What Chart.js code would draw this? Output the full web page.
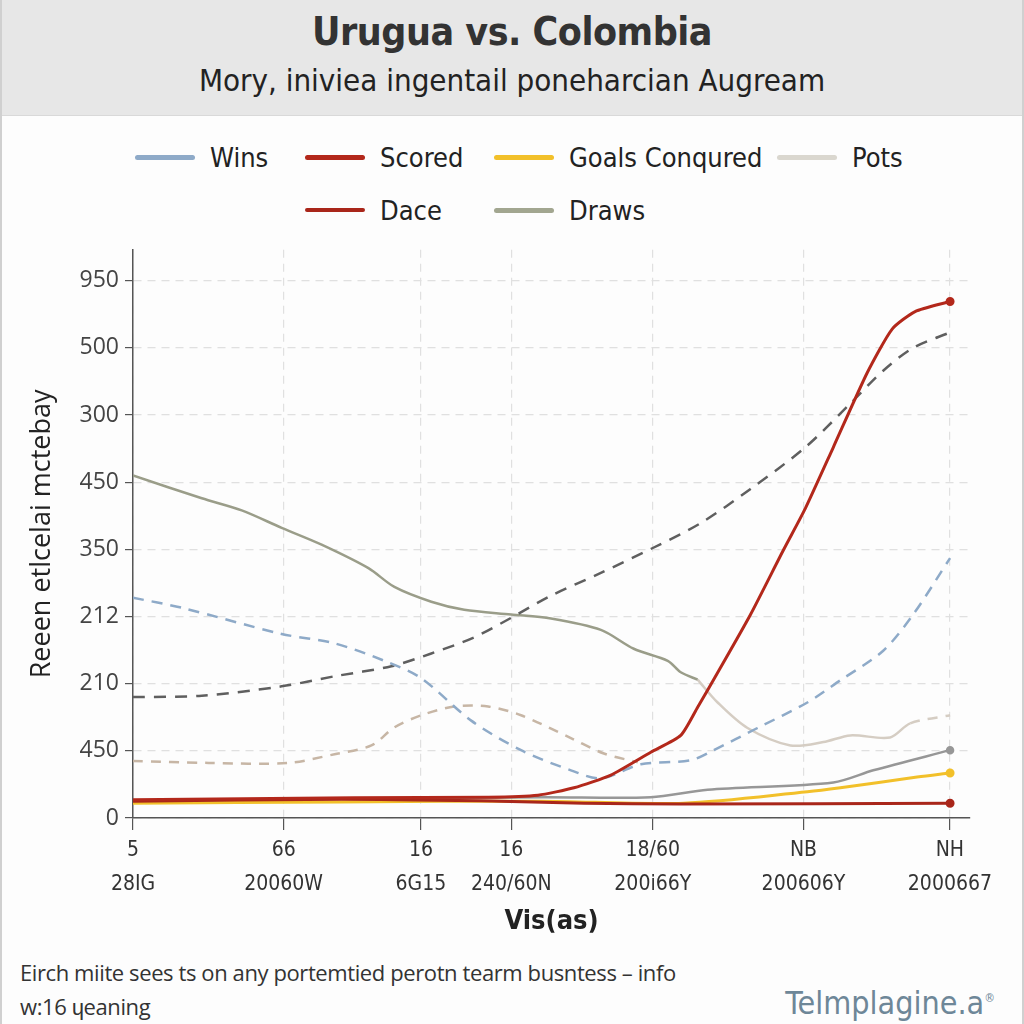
<!DOCTYPE html>
<html>
<head>
<meta charset="utf-8">
<title>Urugua vs. Colombia</title>
<script src="https://cdn.jsdelivr.net/npm/chart.js@4.4.1/dist/chart.umd.min.js"></script>
<style>
  html, body { margin: 0; padding: 0; }
  body {
    width: 1024px; height: 1024px; position: relative; overflow: hidden;
    background: #fdfdfd; font-family: 'DejaVu Sans Condensed', sans-serif;
    box-sizing: border-box; border-left: 2px solid #d0d0d0; border-right: 2px solid #d0d0d0;
  }
  .header {
    position: absolute; left: 0; top: 0; width: 100%; height: 115px;
    background: #e7e7e7; border-bottom: 1px solid #d9d9d9; text-align: center;
  }
  .header h1 { margin: 0; position: absolute; top: 9px; width: 100%; font-size: 39px; font-weight: bold; color: #333; line-height: 46px; letter-spacing: -0.5px; }
  .header p { margin: 0; position: absolute; top: 61px; width: 100%; font-size: 31px; color: #222; line-height: 38px; }
  .legend {
    position: absolute; left: 133px; top: 138px;
    display: grid; grid-template-columns: 170px 189px 283px auto; row-gap: 15px;
    font-size: 27px; color: #222;
  }
  .legend .item { display: flex; align-items: center; height: 38px; white-space: nowrap; }
  .legend .swatch { display: inline-block; width: 60px; height: 5px; border-radius: 3px; margin-right: 15px; }
  .wrap { position: absolute; left: 0; top: 230px; width: 1020px; height: 720px; }
  .note { position: absolute; left: 18px; top: 955px; font-size: 22px; line-height: 34px; color: #333; font-family: 'Open Sans', sans-serif; letter-spacing: -0.4px; }
  .mark { position: absolute; right: 27px; top: 984px; font-size: 32px; color: #6e8798; }
  .mark sup { font-size: 12px; }
</style>
</head>
<body>
<div class="header">
  <h1>Urugua vs. Colombia</h1>
  <p>Mory, iniviea ingentail poneharcian Augream</p>
</div>
<div class="legend" id="legend"></div>
<div class="wrap"><canvas id="chart_match"></canvas></div>
<div class="note">Eirch miite sees ts on any portemtied perotn tearm busntess – info<br>w:16 ɥeaning</div>
<div class="mark">Telmplagine.a<sup>®</sup></div>

<script>
// axis ticks
const xTickPos = [0, 18, 34.4, 45.2, 62.1, 80.1, 97.6];
const xTickTop = ['5', '66', '16', '16', '18/60', 'NB', 'NH'];
const xTickBottom = ['28IG', '20060W', '6G15', '240/60N', '200i66Y', '200606Y', '2000667'];
const yTickLabels = ['0', '450', '210', '212', '350', '450', '300', '500', '950'];

// series, [x, y] pairs
const scored = [[0, 0.27], [26.46, 0.30], [42.43, 0.31], [48.39, 0.34], [52.68, 0.45], [57.09, 0.64], [61.86, 0.98],
  [65.44, 1.23], [67.46, 1.65], [70.20, 2.24], [73.78, 3.03], [77.71, 3.99], [80.33, 4.61], [83.67, 5.52],
  [87.72, 6.63], [90.70, 7.28], [93.44, 7.54], [97.62, 7.69]];
const dace = [[0, 0.25], [24.91, 0.28], [43.98, 0.25], [53.87, 0.22], [65.44, 0.21], [97.62, 0.22]];
const goals = [[0, 0.22], [24.91, 0.24], [48.75, 0.25], [65.79, 0.22], [80.57, 0.39], [84.51, 0.45], [93.68, 0.61], [97.62, 0.67]];
const wins = [[0, 3.28], [5.84, 3.13], [17.76, 2.74], [24.08, 2.60], [30.04, 2.34], [34.45, 2.08], [40.41, 1.45],
  [46.36, 1.01], [52.32, 0.71], [55.90, 0.59], [60.67, 0.80], [66.63, 0.86], [69.37, 1.01], [74.61, 1.34],
  [80.57, 1.72], [84.51, 2.05], [89.63, 2.49], [93.21, 3.03], [97.62, 3.87]];
const trend = [[0, 1.80], [8.22, 1.82], [17.76, 1.96], [24.08, 2.11], [30.87, 2.26], [35.64, 2.45], [40.76, 2.69],
  [45.17, 2.98], [49.94, 3.31], [55.90, 3.65], [62.10, 4.02], [67.82, 4.39], [73.78, 4.90], [80.33, 5.52],
  [85.70, 6.17], [89.63, 6.66], [93.21, 7.00], [97.62, 7.23]];
const draws = [[0, 5.10], [8.22, 4.76], [12.99, 4.58], [17.76, 4.32], [22.53, 4.07], [28.13, 3.72], [31.23, 3.44],
  [35.64, 3.22], [39.57, 3.10], [45.17, 3.03], [49.94, 2.97], [55.90, 2.80], [59.83, 2.52], [63.89, 2.34],
  [65.44, 2.17], [67.46, 2.06]];
const pots = [[0, 0.85], [9.06, 0.82], [18.59, 0.82], [24.08, 0.95], [28.49, 1.08], [31.23, 1.35], [34.45, 1.53],
  [38.38, 1.66], [42.43, 1.66], [46.36, 1.53], [52.32, 1.19], [56.26, 0.96], [60.31, 0.83], [64, null],
  [67.46, 2.06], [69.85, 1.72], [73.42, 1.34], [78.55, 1.08], [82.48, 1.13], [85.70, 1.23], [90.46, 1.20],
  [92.85, 1.41], [97.62, 1.53]];
const lowGrey = [[0, 0.25], [48.75, 0.31], [61.86, 0.31], [68.65, 0.42], [83.67, 0.53], [88.44, 0.71], [97.62, 1.01]];

const legendRows = [['Wins', 'Scored', 'Goals Conqured', 'Pots'], [null, 'Dace', 'Draws']];

const narrow = "'DejaVu Sans Condensed', sans-serif";

function pts(arr) { return arr.map(p => ({ x: p[0], y: p[1] })); }
function endDot(arr) { return ctx => ctx.dataIndex === arr.length - 1 ? 3 : 0; }

const datasets = [
  { label: 'Scored', data: pts(scored), borderColor: '#b3281b', backgroundColor: '#b3281b', borderWidth: 3, tension: 0.2, pointRadius: endDot(scored) },
  { label: 'Dace', data: pts(dace), borderColor: '#a9261a', backgroundColor: '#a9261a', borderWidth: 3, tension: 0.3, pointRadius: endDot(dace) },
  { label: 'Goals Conqured', data: pts(goals), borderColor: '#f2c02a', backgroundColor: '#f2c02a', borderWidth: 3, tension: 0.3, pointRadius: endDot(goals) },
  { label: 'Wins', data: pts(wins), borderColor: '#8eaac8', borderWidth: 2.5, borderDash: [11, 8], tension: 0.3, pointRadius: 0 },
  { label: '', data: pts(trend), borderColor: '#5f5f5f', borderWidth: 2.5, borderDash: [12, 9], tension: 0.3, pointRadius: 0 },
  { label: 'Draws', data: pts(draws), borderColor: '#9a9d89', borderWidth: 2.5, tension: 0.3, pointRadius: 0 },
  { label: 'Pots', data: pts(pots), borderColor: '#d5cdc3', borderWidth: 2.5, tension: 0.3, pointRadius: 0, spanGaps: false,
    segment: {
      borderColor: ctx => ctx.p0.parsed.x < 64 ? '#c7b6a5' : undefined,
      borderDash: ctx => (ctx.p0.parsed.x < 64 || ctx.p0.parsed.x > 92) ? [10, 8] : undefined
    } },
  { label: '', data: pts(lowGrey), borderColor: '#979797', backgroundColor: '#979797', borderWidth: 2.5, tension: 0.3, pointRadius: endDot(lowGrey) }
];

// html legend
const legendEl = document.getElementById('legend');
legendRows.forEach(row => {
  row.forEach(name => {
    const item = document.createElement('div');
    item.className = 'item';
    if (name) {
      const ds = datasets.find(d => d.label === name);
      const col = name === 'Pots' ? '#dad7cf' : (name === 'Draws' ? '#a2a690' : ds.borderColor);
      const h = name === 'Dace' ? 4 : 5;
      item.innerHTML = '<span class="swatch" style="height:' + h + 'px;background:' + col + '"></span>' + name;
    }
    legendEl.appendChild(item);
  });
});

new Chart(document.getElementById('chart_match').getContext('2d'), {
  type: 'line',
  data: { datasets: datasets },
  options: {
    responsive: true,
    maintainAspectRatio: false,
    animation: false,
    layout: { padding: { top: 18, right: 52, left: 0, bottom: 0 } },
    plugins: { legend: { display: false }, tooltip: { enabled: false } },
    scales: {
      x: {
        type: 'linear', min: 0, max: 100,
        afterBuildTicks: s => { s.ticks = xTickPos.map(v => ({ value: v })); },
        afterFit: s => { s.height = 132; },
        ticks: {
          autoSkip: false, maxRotation: 0, padding: 4, color: '#333',
          font: { family: narrow, size: 21, lineHeight: 1.62 },
          callback: (v, i) => [xTickTop[i], xTickBottom[i]]
        },
        grid: { color: '#e0e0e0', tickColor: '#555', tickLength: 12, lineWidth: 1.2 },
        border: { color: '#555', width: 1.5, dash: [8, 6] },
        title: { display: true, text: 'Vis(as)', color: '#222', padding: { bottom: 12 },
          font: { family: narrow, size: 27, weight: 'bold', lineHeight: 1.2 } }
      },
      y: {
        type: 'linear', min: 0, max: 8.46,
        afterBuildTicks: s => { s.ticks = yTickLabels.map((t, i) => ({ value: i })); },
        afterFit: s => { s.width = 131; },
        ticks: {
          padding: 6, color: '#444',
          font: { family: "'Open Sans', sans-serif", size: 23 },
          callback: (v, i) => yTickLabels[i]
        },
        grid: { color: '#e0e0e0', tickColor: '#555', tickLength: 8, lineWidth: 1.2 },
        border: { color: '#555', width: 1.5, dash: [8, 6] },
        title: { display: true, text: 'Reeen etlcelai mctebay', color: '#222', padding: { top: 24 },
          font: { family: "'Open Sans', sans-serif", size: 27, lineHeight: 1.2 } }
      }
    }
  }
});
</script>
</body>
</html>
